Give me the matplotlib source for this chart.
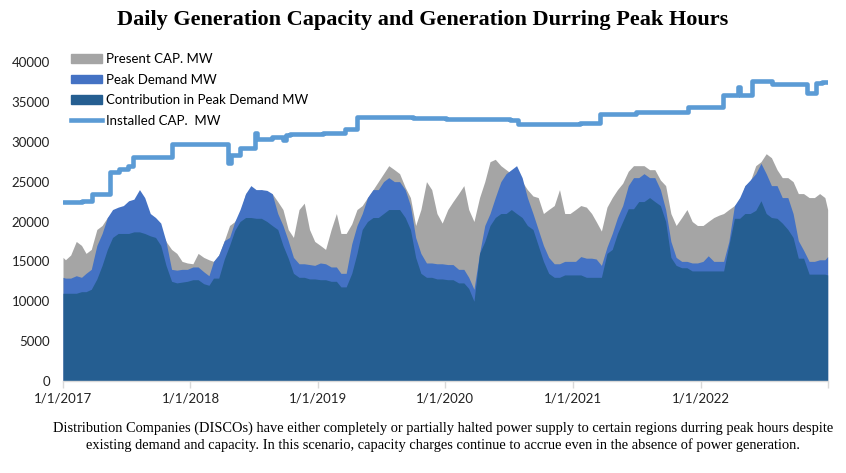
import pandas as pd
import matplotlib
matplotlib.use('Agg')
import matplotlib.pyplot as plt
from matplotlib.patches import Patch
from matplotlib.lines import Line2D

# Half-month readings (around the 8th and 23rd), Jan 2017 .. Dec 2022, in MW
present_cap = [
    15200, 15800, 17500, 17000, 16000, 16500, 19000, 19500, 20500, 21000, 21500, 21500,
    22000, 22000, 22500, 22000, 20500, 20000, 19000, 17500, 16500, 16000, 15000, 14800,
    14700, 16000, 15500, 15200, 15000, 15800, 17600, 19500, 20000, 21000, 23500, 24000,
    23500, 24000, 23500, 23500, 22500, 21500, 19000, 18000, 21500, 22300, 19000, 17500,
    17000, 16500, 19000, 21000, 18500, 18500, 19700, 21500, 22000, 23000, 24000, 25000,
    26000, 27000, 26500, 26000, 24300, 23000, 19500, 21500, 25000, 24000, 21000, 19800,
    21500, 22500, 23500, 24500, 21500, 20000, 23000, 25000, 27500, 27800, 27000, 26500,
    26000, 25500, 25000, 24000, 23200, 23000, 21000, 21500, 22000, 24000, 21000, 21000,
    21500, 22000, 21800, 21000, 20000, 18800, 21800, 23000, 24000, 24800, 26300, 27000,
    27000, 27000, 26500, 26500, 25200, 24500, 21000, 19500, 20500, 21500, 20000, 19500,
    19500, 20000, 20500, 20800, 21000, 21500, 22000, 22500, 24500, 25000, 27000, 27500,
    28500, 28000, 26500, 25500, 25500, 25000, 23500, 23500, 23000, 23000, 23500, 23000,
]
peak_demand = [
    12900, 12900, 13200, 13000, 13500, 14000, 17000, 18500, 20500, 21500, 21800, 22000,
    22600, 22800, 24000, 23000, 21000, 20500, 19800, 17500, 14000, 13900, 14000, 14000,
    14300, 14300, 13700, 13200, 15000, 15800, 17600, 18000, 20000, 21500, 23500, 24500,
    24000, 24000, 23900, 23500, 21000, 19500, 17600, 15500, 14700, 14700, 14600, 14500,
    14800, 14700, 14300, 14300, 13500, 13500, 17200, 19500, 21000, 23000, 24000, 24000,
    25000, 25500, 25000, 25000, 24000, 22000, 18000, 16000, 14800, 14800, 14700, 14700,
    14600, 14600, 14000, 14000, 13000, 11500, 16000, 19500, 21000, 23000, 25000, 26000,
    26500, 27000, 25500, 23000, 21000, 19000, 17000, 15500, 14700, 14700, 15000, 15000,
    15000, 15600, 15400, 15400, 15300, 14500, 16800, 18500, 20500, 22000, 24500, 25500,
    25500, 26000, 25500, 25500, 24000, 21500, 17500, 15500, 15000, 15000, 14800, 14800,
    15000, 15700, 15000, 15000, 15000, 17500, 22000, 23000, 24500, 25200, 26000, 27300,
    26000, 24500, 24500, 23000, 23000, 21000, 17600, 16400, 15000, 15000, 15200, 15200,
]
contribution = [
    11000, 11000, 11000, 11200, 11200, 11500, 12800, 14500, 16500, 18000, 18500, 18500,
    18500, 18700, 18700, 18500, 18200, 18000, 17000, 14500, 12500, 12300, 12400, 12500,
    12700, 12700, 12200, 12000, 12900, 12900, 15300, 17000, 18900, 20000, 20500, 20500,
    20400, 20400, 20000, 19500, 19000, 17000, 15400, 13500, 13000, 13000, 12800, 12800,
    12700, 12700, 12500, 12500, 11800, 11800, 13500, 16000, 19000, 20000, 20500, 20500,
    21000, 21500, 21500, 21500, 20500, 19000, 15500, 13500, 13000, 13000, 12800, 12800,
    12700, 12700, 12300, 12300, 11600, 10000, 16000, 17500, 19500, 20500, 21000, 21000,
    21500, 21000, 20500, 19500, 19000, 17000, 15000, 13500, 13000, 13000, 13300, 13300,
    13300, 13300, 13000, 13000, 13000, 13000, 16000, 16500, 18500, 20000, 21600, 21600,
    22500, 22500, 23000, 22500, 22000, 20000, 15500, 14500, 14200, 14200, 13800, 13800,
    13800, 13800, 13800, 13800, 13800, 17000, 20400, 20400, 21000, 21000, 21400, 22600,
    21000, 20500, 20400, 19800, 19000, 18000, 15400, 15400, 13400, 13400, 13400, 13400,
]
# values on the first and last day of the range
start_vals = (15500, 13000, 11000)
end_vals = (21500, 15600, 13300)

# Installed capacity, step changes
cap_dates = [
    '2017-01-01', '2017-02-24', '2017-03-25', '2017-05-15', '2017-06-10', '2017-07-06',
    '2017-07-20', '2017-11-09', '2018-04-18', '2018-04-26', '2018-05-23', '2018-07-05',
    '2018-07-12', '2018-08-22', '2018-09-23', '2018-10-01', '2018-10-13', '2019-01-15',
    '2019-03-19', '2019-04-23', '2019-10-01', '2020-01-04', '2020-07-03', '2020-07-26',
    '2021-01-20', '2021-03-18', '2021-07-01', '2021-11-25', '2022-03-05', '2022-04-17',
    '2022-04-24', '2022-05-27', '2022-07-26', '2022-11-01', '2022-11-29', '2022-12-16',
    '2022-12-31',
]
cap_values = [
    22400, 22600, 23450, 26250, 26600, 26900,
    28100, 29700, 27300, 28400, 29200, 31100,
    30400, 30650, 30200, 30800, 31000, 31100,
    31600, 33150, 33000, 32900, 32700, 32200,
    32300, 33500, 33700, 34400, 35900, 36900,
    35900, 37650, 37300, 36100, 37350, 37550,
    37550,
]

year_labels = ['1/1/2017', '1/1/2018', '1/1/2019', '1/1/2020', '1/1/2021', '1/1/2022', '']

title = 'Daily Generation Capacity and Generation Durring Peak Hours'
note = ('Distribution Companies (DISCOs) have either completely or partially halted power supply to certain regions durring peak hours despite\n'
        'existing demand and capacity. In this scenario, capacity charges continue to accrue even in the absence of power generation.')

# dates for the half-month readings
months = pd.date_range('2017-01-01', '2022-12-01', freq='MS')
half = []
for m in months:
    half += [m + pd.Timedelta(days=7), m + pd.Timedelta(days=22)]
dates = [pd.Timestamp('2017-01-01')] + half + [pd.Timestamp('2022-12-31')]
df = pd.DataFrame({
    'present': [start_vals[0]] + present_cap + [end_vals[0]],
    'peak': [start_vals[1]] + peak_demand + [end_vals[1]],
    'contrib': [start_vals[2]] + contribution + [end_vals[2]],
}, index=pd.DatetimeIndex(dates))
cap = pd.Series(cap_values, index=pd.to_datetime(cap_dates))

GRAY = '#A5A5A5'
BLUE = '#4472C4'
DARK = '#255E91'
LINE = '#5B9BD5'
TICK_FONT = ['Lato', 'DejaVu Sans']
SERIF = ['Liberation Serif', 'DejaVu Serif']

fig = plt.figure(figsize=(8.46, 4.73), dpi=100)
ax = fig.add_axes([63 / 846, 1 - 381 / 473, (828 - 63) / 846, (381 - 62) / 473])

ax.fill_between(df.index, 0, df['present'], color=GRAY, lw=0)
ax.fill_between(df.index, 0, df['peak'], color=BLUE, lw=0)
ax.fill_between(df.index, 0, df['contrib'], color=DARK, lw=0)
ax.plot(cap.index, cap.values, drawstyle='steps-post', color=LINE, lw=3.3,
        solid_joinstyle='round', solid_capstyle='round')

ax.set_ylim(0, 40000)
ax.set_yticks(range(0, 40001, 5000))
ax.set_xlim(pd.Timestamp('2017-01-01'), pd.Timestamp('2023-01-01'))
ticks = pd.date_range('2017-01-01', '2023-01-01', freq='YS')
ax.set_xticks(ticks)
ax.set_xticklabels(year_labels)

for s in ['top', 'right', 'left']:
    ax.spines[s].set_visible(False)
ax.spines['bottom'].set_color('#D9D9D9')
ax.spines['bottom'].set_linewidth(1)
ax.tick_params(axis='y', length=0, pad=9.5, labelsize=9.5, labelcolor='#222222')
ax.tick_params(axis='x', length=5, width=1, color='#D9D9D9', pad=3, labelsize=9.5, labelcolor='#222222')
for lab in ax.get_xticklabels() + ax.get_yticklabels():
    lab.set_family(TICK_FONT)

handles = [
    Patch(color=GRAY, label='Present CAP. MW'),
    Patch(color=BLUE, label='Peak Demand MW'),
    Patch(color=DARK, label='Contribution in Peak Demand MW'),
    Line2D([], [], color=LINE, lw=3.3, label='Installed CAP.  MW'),
]
fig.legend(handles=handles, loc='upper left', bbox_to_anchor=(71 / 846, 1 - 53 / 473),
           frameon=False, prop={'family': TICK_FONT, 'size': 9.5},
           handlelength=2.35, handleheight=0.6, handletextpad=0.3, labelspacing=0.65,
           borderaxespad=0, borderpad=0)

fig.text(0.5, 1 - 20 / 473, title, ha='center', va='center', fontsize=16,
         fontweight='bold', family=SERIF)
fig.text(443 / 846, 1 - 437 / 473, note, ha='center', va='center', fontsize=10.4,
         family=SERIF, linespacing=1.3)

fig.savefig('out.png', dpi=100)
